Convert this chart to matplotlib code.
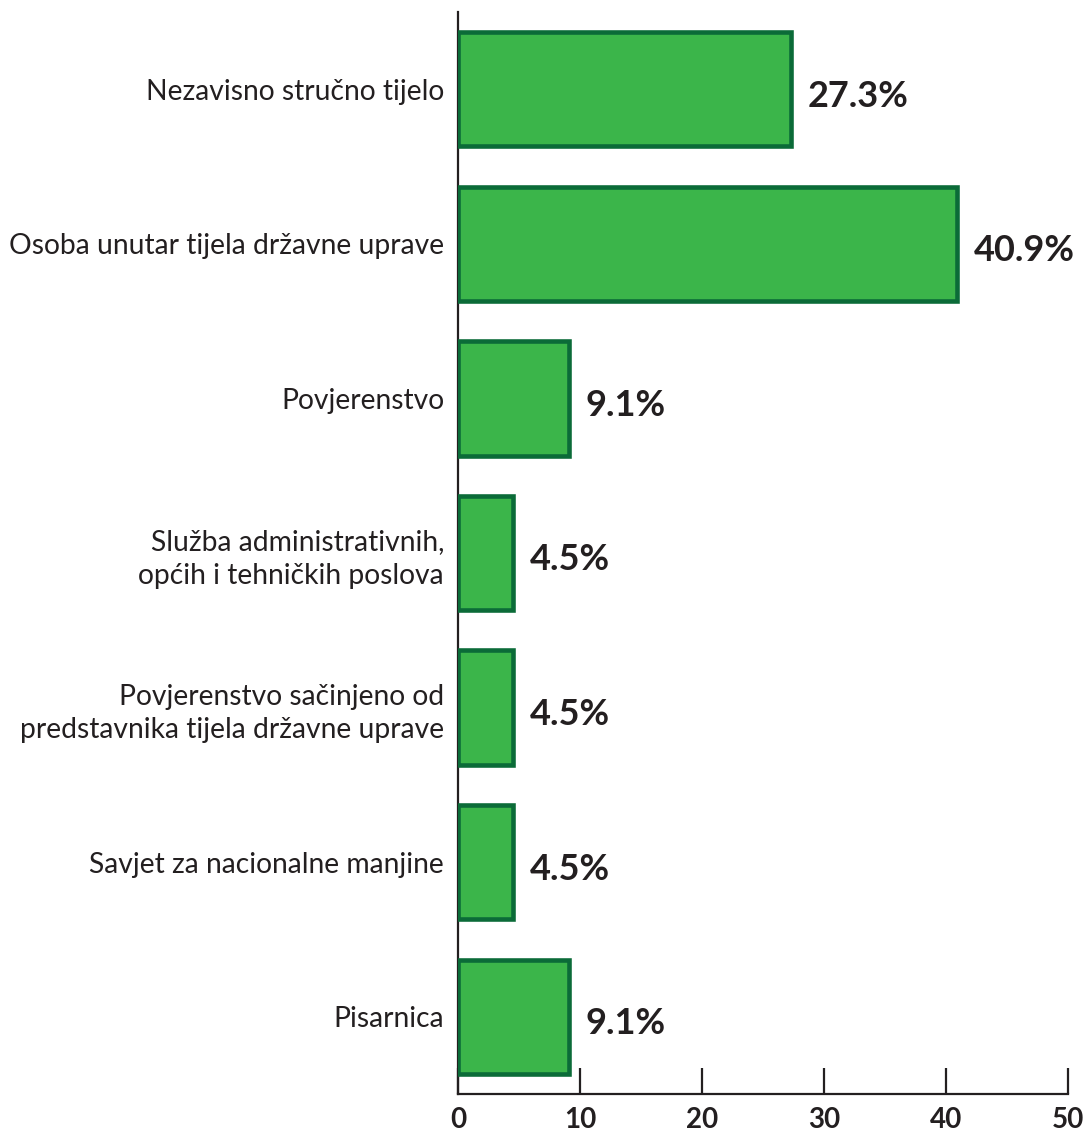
import matplotlib.pyplot as plt

# categories, top to bottom
categories = [
    "Nezavisno stručno tijelo",
    "Osoba unutar tijela državne uprave",
    "Povjerenstvo",
    "Služba administrativnih,\nopćih i tehničkih poslova",
    "Povjerenstvo sačinjeno od\npredstavnika tijela državne uprave",
    "Savjet za nacionalne manjine",
    "Pisarnica",
]
values = [27.3, 40.9, 9.1, 4.5, 4.5, 4.5, 9.1]
xticks = [0, 10, 20, 30, 40, 50]

dark = "#231f20"
fill = "#3bb54a"
edge = "#0b6b38"

fig = plt.figure(figsize=(10.87, 11.35), dpi=100)
ax = fig.add_axes([458 / 1087, 41 / 1135, 610 / 1087, 1082 / 1135])

pos = list(range(len(categories)))
ax.barh(pos, values, height=0.74, color=fill, edgecolor=edge, linewidth=3.3, zorder=3)

for y, v in zip(pos, values):
    ax.annotate(
        "{}%".format(v),
        xy=(v, y),
        xytext=(12, -5),
        textcoords="offset points",
        ha="left",
        va="center",
        fontsize=26,
        fontweight="bold",
        family="Lato",
        color=dark,
    )

ax.set_xlim(0, 50)
ax.set_ylim(6.5, -0.5)
ax.set_xticks(xticks)
ax.set_xticklabels([str(t) for t in xticks], fontsize=20, fontweight="bold", family="Lato", color=dark)
ax.set_yticks(pos)
ax.set_yticklabels(categories, fontsize=20.3, family="Lato", color=dark, linespacing=1.35)

ax.tick_params(axis="x", direction="in", length=19, width=1.6, color=dark, pad=9)
ax.tick_params(axis="y", length=0, pad=10)

for s in ["top", "right"]:
    ax.spines[s].set_visible(False)
for s in ["left", "bottom"]:
    ax.spines[s].set_color(dark)
    ax.spines[s].set_linewidth(1.6)

fig.savefig("out.png", dpi=100)
